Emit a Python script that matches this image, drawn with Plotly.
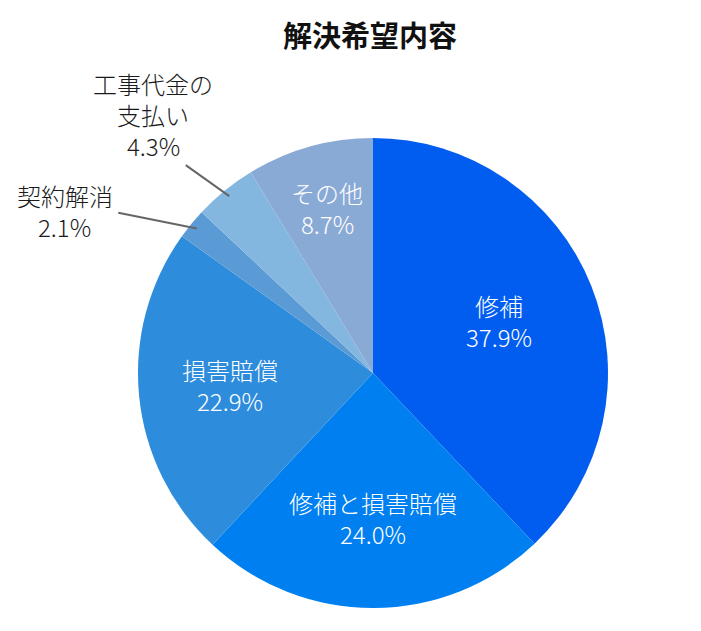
import math

import plotly.graph_objects as go

names = ["修補", "修補と損害賠償", "損害賠償", "契約解消", "工事代金の支払い", "その他"]
values = [37.9, 24.0, 22.9, 2.1, 4.3, 8.7]
colors = ["#005df0", "#0080f0", "#2e8cdc", "#5b9bd5", "#84b7df", "#8aaad6"]

W, H = 701, 631
cx, cy, R = 373, 373, 235  # pie centre / radius in px (as seen)
OFF = 8  # page body margin shifts everything by 8px
LINE = 31  # label line spacing, px
RAISE = 2

# label placement: inside ones by radius fraction, outside ones by leader line
inside_r = {0: 0.575, 1: 0.626, 2: 0.61, 5: 0.72}
# outside: (line tail dx, dy), (text dx), first line dy, text lines
outside = {
    3: ((-80, -16), -132, -31, ["契約解消"]),
    4: ((-45, -32), -76, -111, ["工事代金の", "支払い"]),
}


def px(x):
    return (x - OFF) / W


def py(y):
    return 1 - (y - OFF) / H


fig = go.Figure(
    go.Pie(
        labels=names,
        values=values,
        textinfo="none",
        sort=False,
        direction="clockwise",
        rotation=0,
        marker=dict(colors=colors, line=dict(width=0)),
        domain=dict(x=[px(cx - R), px(cx + R)], y=[py(cy + R), py(cy - R)]),
        showlegend=False,
        hoverinfo="label+value",
    )
)

lab_font = dict(size=24, family="Noto Sans CJK JP", weight=300)


def put(x, y, text, dx, dy, color):
    fig.add_annotation(
        x=px(x), y=py(y), xref="paper", yref="paper", text=text,
        showarrow=False, xshift=dx, yshift=-(dy - RAISE), xanchor="center", yanchor="middle",
        borderpad=0, font=dict(lab_font, color=color),
    )


total = sum(values)
cum = 0
for i, v in enumerate(values):
    mid = (cum + v / 2) / total
    cum += v
    ang = 2 * math.pi * mid
    pct = "%.1f%%" % v
    if i in inside_r:
        r = inside_r[i] * R
        x = cx + r * math.sin(ang)
        y = cy - r * math.cos(ang)
        put(x, y, names[i], 0, -LINE / 2, "white")
        put(x, y, pct, 0, LINE / 2, "white")
    else:
        x = cx + 0.97 * R * math.sin(ang)
        y = cy - 0.97 * R * math.cos(ang)
        (tx, ty), dx, dy0, lines = outside[i]
        fig.add_annotation(
            x=px(x), y=py(y), xref="paper", yref="paper", text="",
            showarrow=True, arrowhead=0, arrowwidth=2, arrowcolor="#666666",
            ax=tx, ay=ty, standoff=0, startstandoff=0,
        )
        for k, t in enumerate(lines + [pct]):
            put(x, y, t, dx, dy0 + k * LINE, "#1a1a1a")

fig.update_layout(
    width=W,
    height=H,
    title=dict(
        text="<b>解決希望内容</b>", x=px(370), xanchor="center", y=py(37), yanchor="middle",
        font=dict(size=29, color="#111111", family="Noto Sans CJK JP"),
    ),
    margin=dict(l=0, r=0, t=0, b=0),
    paper_bgcolor="white",
    font=dict(family="Noto Sans CJK JP"),
)
fig.write_html("out.html")
